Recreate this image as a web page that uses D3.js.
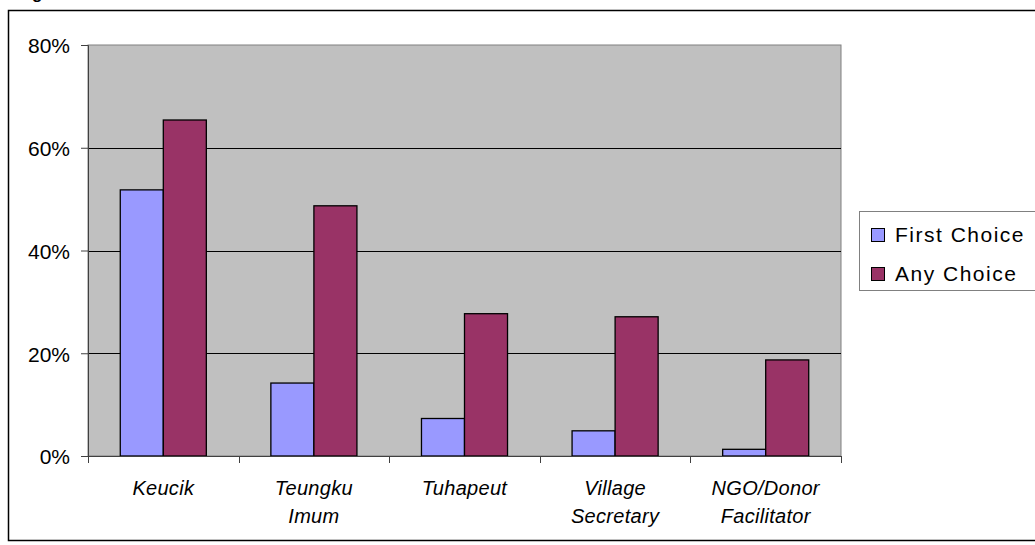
<!DOCTYPE html>
<html>
<head>
<meta charset="utf-8">
<script src="https://cdn.jsdelivr.net/npm/d3@7"></script>
<style>
  body { margin: 0; background: #fff; }
  svg { display: block; font-family: "Liberation Sans", Arial, sans-serif; }
</style>
</head>
<body>
<div id="chart"></div>
<script>
var categories = [["Keucik"], ["Teungku", "Imum"], ["Tuhapeut"], ["Village", "Secretary"], ["NGO/Donor", "Facilitator"]];
var seriesNames = ["First Choice", "Any Choice"];
var firstChoice = [0.518, 0.142, 0.073, 0.049, 0.013];
var anyChoice = [0.654, 0.487, 0.277, 0.271, 0.187];
var yTicks = [0, 0.2, 0.4, 0.6, 0.8];
var colors = ["#9999FF", "#993366"];

var width = 1035, height = 545;
var plot = { left: 88, top: 45, right: 841, bottom: 456 };

var svg = d3.select("#chart").append("svg")
    .attr("width", width)
    .attr("height", height);

// cropped caption at the top edge
svg.append("text")
    .attr("x", 17).attr("y", -1)
    .attr("font-weight", "bold").attr("font-size", 17)
    .text("Figure");

// outer chart frame
svg.append("rect")
    .attr("x", 8.5).attr("y", 10.5)
    .attr("width", 1040).attr("height", 530)
    .attr("fill", "none").attr("stroke", "#000").attr("stroke-width", 1.5);

var x0 = d3.scaleBand()
    .domain(d3.range(categories.length))
    .range([plot.left, plot.right])
    .paddingInner(0).paddingOuter(0);

var x1 = d3.scaleBand()
    .domain([0, 1])
    .range([0, x0.bandwidth()])
    .paddingOuter(0.75).paddingInner(0);

var y = d3.scaleLinear()
    .domain([0, 0.8])
    .range([plot.bottom, plot.top]);

svg.append("rect")
    .attr("x", plot.left).attr("y", plot.top)
    .attr("width", plot.right - plot.left).attr("height", plot.bottom - plot.top)
    .attr("fill", "#C0C0C0").attr("stroke", "#808080").attr("stroke-width", 1);

svg.append("g").selectAll("line")
    .data(yTicks.filter(function(d) { return d > 0 && d < 0.8; }))
    .enter().append("line")
    .attr("x1", plot.left).attr("x2", plot.right)
    .attr("y1", function(d) { return Math.round(y(d)) + 0.5; })
    .attr("y2", function(d) { return Math.round(y(d)) + 0.5; })
    .attr("stroke", "#000").attr("stroke-width", 1);

var rows = categories.map(function(c, i) { return [firstChoice[i], anyChoice[i]]; });

var group = svg.append("g").selectAll("g")
    .data(rows).enter().append("g")
    .attr("transform", function(d, i) { return "translate(" + x0(i) + ",0)"; });

group.selectAll("rect")
    .data(function(d) { return d; })
    .enter().append("rect")
    .attr("x", function(d, j) { return x1(j); })
    .attr("y", function(d) { return y(d); })
    .attr("width", x1.bandwidth())
    .attr("height", function(d) { return y(0) - y(d); })
    .attr("fill", function(d, j) { return colors[j]; })
    .attr("stroke", "#000").attr("stroke-width", 1.3);

// y axis
var yAxis = d3.axisLeft(y)
    .tickValues(yTicks)
    .tickFormat(d3.format(".0%"))
    .tickSize(7).tickPadding(11);

var gy = svg.append("g")
    .attr("transform", "translate(" + plot.left + ",0)")
    .call(yAxis);
gy.select(".domain").attr("stroke", "#404040");
gy.selectAll(".tick line").attr("stroke", "#404040");
gy.selectAll("text")
    .attr("font-size", 21)
    .attr("dy", "0.37em")
    .attr("font-family", "Liberation Sans, Arial, sans-serif")
    .attr("fill", "#000");

// x axis with ticks on category boundaries
var gx = svg.append("g");
gx.append("line")
    .attr("x1", plot.left).attr("x2", plot.right)
    .attr("y1", plot.bottom + 0.5).attr("y2", plot.bottom + 0.5)
    .attr("stroke", "#404040");
gx.selectAll("line.tk")
    .data(d3.range(categories.length + 1))
    .enter().append("line")
    .attr("class", "tk")
    .attr("x1", function(i) { return Math.round(plot.left + i * x0.step()) + 0.5; })
    .attr("x2", function(i) { return Math.round(plot.left + i * x0.step()) + 0.5; })
    .attr("y1", plot.bottom).attr("y2", plot.bottom + 7)
    .attr("stroke", "#404040");

gx.selectAll("text")
    .data(categories).enter().append("text")
    .attr("x", function(d, i) { return x0(i) + x0.bandwidth() / 2; })
    .attr("y", 495)
    .attr("text-anchor", "middle")
    .attr("font-style", "italic").attr("font-size", 20)
    .attr("letter-spacing", 0.3)
    .selectAll("tspan")
    .data(function(d) { return d; })
    .enter().append("tspan")
    .attr("x", function() { return this.parentNode.getAttribute("x"); })
    .attr("dy", function(d, k) { return k === 0 ? 0 : 28; })
    .text(function(d) { return d; });

// legend
var legend = svg.append("g");
legend.append("rect")
    .attr("x", 859.5).attr("y", 211.5)
    .attr("width", 200).attr("height", 79)
    .attr("fill", "#fff").attr("stroke", "#808080");

var item = legend.selectAll("g.item")
    .data(seriesNames).enter().append("g")
    .attr("class", "item")
    .attr("transform", function(d, i) { return "translate(871," + (242 + i * 39) + ")"; });
item.append("rect")
    .attr("x", 0.5).attr("y", -13.5)
    .attr("width", 13).attr("height", 13)
    .attr("fill", function(d, i) { return colors[i]; })
    .attr("stroke", "#000");
item.append("text")
    .attr("x", 24).attr("y", 0)
    .attr("font-size", 21)
    .attr("letter-spacing", 1.5)
    .text(function(d) { return d; });
</script>
</body>
</html>
